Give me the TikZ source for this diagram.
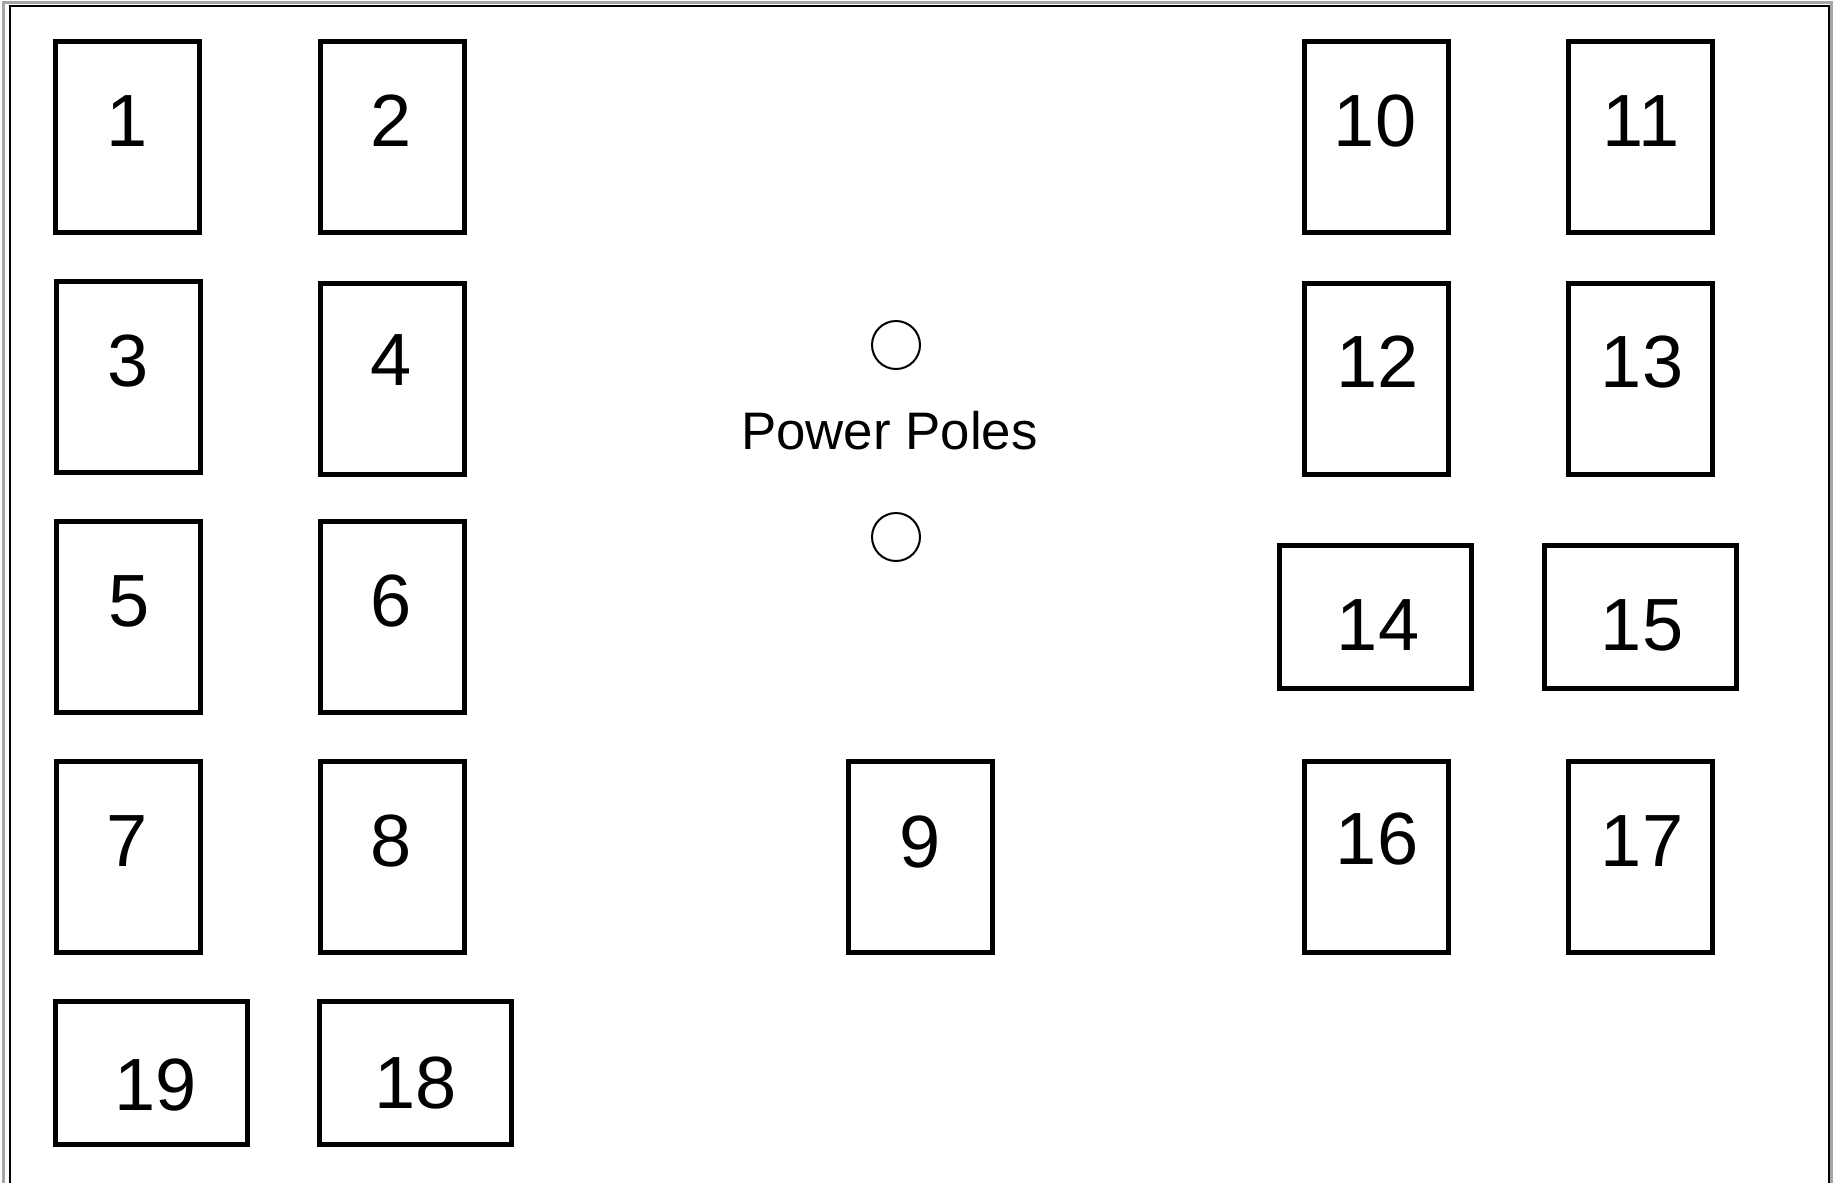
\documentclass[tikz,border=0pt]{standalone}
\usepackage{fontspec}
\setmainfont{Liberation Sans}
\begin{document}
\begin{tikzpicture}[x=0.5pt,y=-0.5pt,
  tallbox/.style={draw=black,line width=2.5pt,minimum width=72pt,minimum height=95.5pt,inner sep=0pt,outer sep=0pt},
  widebox/.style={draw=black,line width=2.5pt,minimum width=96pt,minimum height=71.5pt,inner sep=0pt,outer sep=0pt},
  num/.style={anchor=base,inner sep=0pt,font=\fontsize{37pt}{37pt}\selectfont},
  pole/.style={circle,draw=black,line width=1pt,minimum size=24pt,inner sep=0pt}]
\useasboundingbox (0,0) rectangle (1843,1183);
\fill[white] (0,0) rectangle (1843,1183);
% page frame
\draw[gray!70,line width=1.5pt] (3,1200) -- (3,2) -- (1831,2) -- (1831,1200);
\draw[black,line width=1pt] (10,1200) -- (10,6) -- (1829,6) -- (1829,1200);
% boxes
\node[tallbox] (b1) at (127.5,137) {};
\node[tallbox] (b2) at (392,137) {};
\node[tallbox] (b3) at (128,376.5) {};
\node[tallbox] (b4) at (392,379) {};
\node[tallbox] (b5) at (128,616.5) {};
\node[tallbox] (b6) at (392,616.5) {};
\node[tallbox] (b7) at (128,857) {};
\node[tallbox] (b8) at (392,857) {};
\node[tallbox] (b9) at (920,857) {};
\node[tallbox] (b10) at (1376,137) {};
\node[tallbox] (b11) at (1640,137) {};
\node[tallbox] (b12) at (1376,379) {};
\node[tallbox] (b13) at (1640,379) {};
\node[widebox] (b14) at (1375.5,617) {};
\node[widebox] (b15) at (1640.5,617) {};
\node[tallbox] (b16) at (1376,857) {};
\node[tallbox] (b17) at (1640,857) {};
\node[widebox] (b19) at (151.5,1073) {};
\node[widebox] (b18) at (415.5,1073) {};
% labels
\node[num] (l1) at (127,146) {1};
\node[num] (l2) at (391,146) {2};
\node[num] (l10) at (1375,146) {10};
\node[num] (l11) at (1641,146) {11};
\node[num] (l3) at (128,386) {3};
\node[num] (l4) at (391.5,385) {4};
\node[num] (l12) at (1377.5,387) {12};
\node[num] (l13) at (1642,387) {13};
\node[num] (l5) at (129,626) {5};
\node[num] (l6) at (391.5,626) {6};
\node[num] (l14) at (1378,650) {14};
\node[num] (l15) at (1642,650) {15};
\node[num] (l7) at (127,866) {7};
\node[num] (l8) at (391,866) {8};
\node[num] (l9) at (919.6,867) {9};
\node[num] (l16) at (1377,864) {16};
\node[num] (l17) at (1642,866) {17};
\node[num] (l19) at (155.8,1110) {19};
\node[num] (l18) at (416,1108) {18};
% power poles
\node[pole] (p1) at (896,345) {};
\node[pole] (p2) at (896,537) {};
\node[anchor=base,inner sep=0pt,font=\fontsize{26.4pt}{26.4pt}\selectfont] (pp) at (889.5,449) {Power Poles};
\end{tikzpicture}
\end{document}
